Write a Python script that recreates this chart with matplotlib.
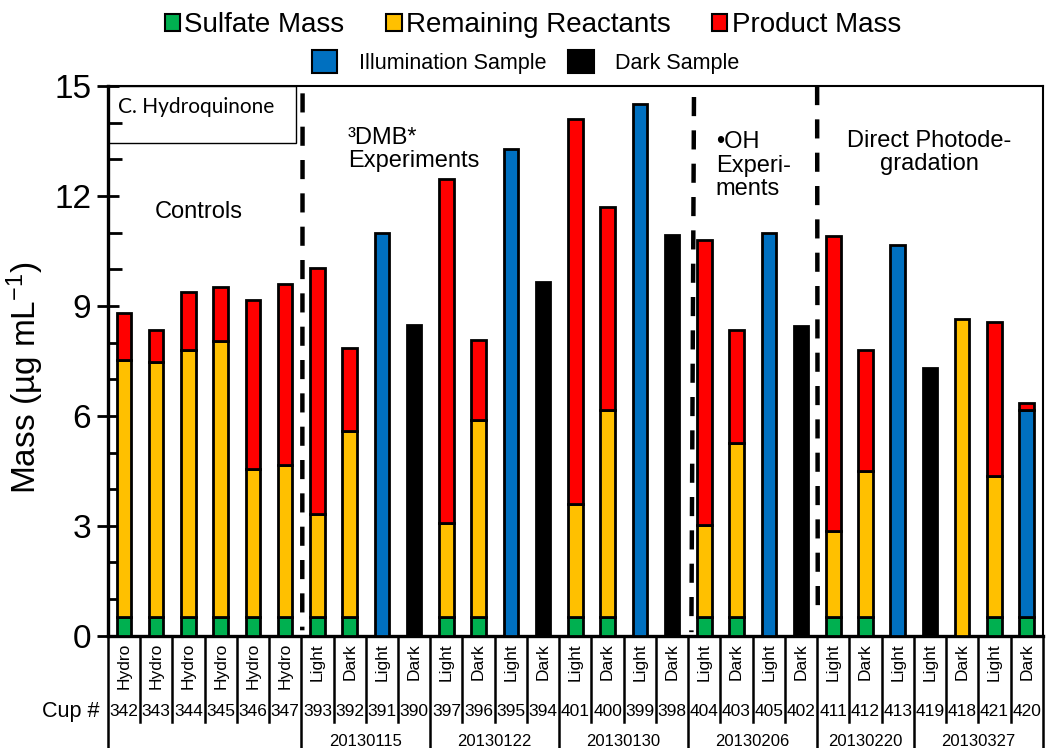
import numpy as np
import matplotlib
matplotlib.use("Agg")
import matplotlib.pyplot as plt
import matplotlib.transforms as mtransforms
from matplotlib.patches import Patch, Rectangle

plt.rcParams['font.family'] = ['Liberation Sans', 'DejaVu Sans']
plt.rcParams['mathtext.default'] = 'regular'

cups = ['342', '343', '344', '345', '346', '347',
        '393', '392', '391', '390', '397', '396', '395', '394',
        '401', '400', '399', '398', '404', '403', '405', '402',
        '411', '412', '413', '419', '418', '421', '420']
kinds = ['Hydro'] * 6 + ['Light', 'Dark'] * 8 + ['Light', 'Dark', 'Light'] + ['Light', 'Dark', 'Light', 'Dark']

# segment heights (ug/mL), stacked bottom -> top
sulfate = [0.5, 0.5, 0.5, 0.5, 0.5, 0.5,
           0.5, 0.5, 0, 0, 0.5, 0.5, 0, 0,
           0.5, 0.5, 0, 0, 0.5, 0.5, 0, 0,
           0.5, 0.5, 0, 0, 0, 0.5, 0.5]
reactants = [7.03, 6.96, 7.31, 7.53, 4.06, 4.16,
             2.83, 5.08, 0, 0, 2.59, 5.40, 0, 0,
             3.10, 5.67, 0, 0, 2.51, 4.76, 0, 0,
             2.35, 3.99, 0, 0, 8.63, 3.85, 0]
illum = [0, 0, 0, 0, 0, 0,
         0, 0, 11.0, 0, 0, 0, 13.29, 0,
         0, 0, 14.51, 0, 0, 0, 10.99, 0,
         0, 0, 10.67, 0, 0, 0, 5.65]
dark = [0, 0, 0, 0, 0, 0,
        0, 0, 0, 8.47, 0, 0, 0, 9.65,
        0, 0, 0, 10.93, 0, 0, 0, 8.44,
        0, 0, 0, 7.31, 0, 0, 0]
product = [1.27, 0.87, 1.56, 1.49, 4.61, 4.95,
           6.71, 2.27, 0, 0, 9.38, 2.18, 0, 0,
           10.49, 5.53, 0, 0, 7.78, 3.09, 0, 0,
           8.07, 3.32, 0, 0, 0, 4.20, 0.2]

dates = ['20130115', '20130122', '20130130', '20130206', '20130220', '20130327']
date_start = [6, 10, 14, 18, 22, 25]
date_end = [9, 13, 17, 21, 24, 28]

c_green, c_yellow, c_red, c_blue = '#00B050', '#FFC000', '#FF0000', '#0070C0'

fig = plt.figure(figsize=(10.47, 7.48), dpi=100)
ax = fig.add_axes([0.103, 0.15, 0.893, 0.735])

x = np.arange(len(cups))
w = 0.45
bottom = np.zeros(len(cups))
for vals, col in [(sulfate, c_green), (reactants, c_yellow), (illum, c_blue),
                  (dark, 'black'), (product, c_red)]:
    vals = np.array(vals)
    m = vals > 0
    ax.bar(x[m], vals[m], w, bottom=bottom[m], color=col, edgecolor='black', linewidth=2, zorder=3)
    bottom += vals

ax.set_xlim(-0.5, len(cups) - 0.5)
ax.set_ylim(0, 15)
ax.set_xticks([])
ax.set_yticks(np.arange(0, 16, 3))
ax.set_yticks(np.arange(0, 16, 1), minor=True)
ax.tick_params(axis='y', which='major', direction='inout', length=16, width=2, labelsize=24, pad=4)
ax.tick_params(axis='y', which='minor', direction='in', length=10, width=2)
ax.set_ylabel('Mass (µg mL$^{-1}$)', fontsize=24)
ax.yaxis.set_label_coords(-0.066, 0.47)
for s in ['left', 'bottom']:
    ax.spines[s].set_linewidth(2.4)
for s in ['top', 'right']:
    ax.spines[s].set_linewidth(1.5)

# dashed group separators
dash = dict(color='black', lw=3.2, dashes=(4.3, 3.2), zorder=4)
ax.plot([5.54, 5.53], [14.8, 0.15], **dash)
ax.plot([17.68, 17.6], [14.7, 0.1], **dash)
ax.plot([21.5, 21.52], [15, 0.5], **dash)

# panel label box
ax.add_patch(Rectangle((-0.5, 13.45), 5.85, 1.55, fill=False, lw=1, edgecolor='black', zorder=5))
ax.text(-0.2, 14.42, 'C. Hydroquinone', fontsize=15, family=['Lato', 'DejaVu Sans'],
        va='center', ha='left')

ax.text(2.32, 11.55, 'Controls', fontsize=17, ha='center', va='center')
ax.text(6.94, 13.27, '³DMB*\nExperiments', fontsize=17, ha='left', va='center', linespacing=1.1)
ax.text(18.36, 12.83, '•OH\nExperi-\nments', fontsize=17, ha='left', va='center', linespacing=1.1)
ax.text(24.97, 13.19, 'Direct Photode-\ngradation', fontsize=17, ha='center', va='center',
        multialignment='center', linespacing=1.1)

# table beneath the axis
trans = mtransforms.blended_transform_factory(ax.transData, ax.transAxes)
for i, (k, c) in enumerate(zip(kinds, cups)):
    ax.text(i, -0.013, k, rotation=90, ha='center', va='top', fontsize=12.5,
            transform=trans, clip_on=False)
    ax.text(i, -0.137, c, ha='center', va='center', fontsize=12.5,
            transform=trans, clip_on=False)
ax.text(-0.75, -0.137, 'Cup #', ha='right', va='center', fontsize=15.5,
        transform=trans, clip_on=False)

group_edges = [-0.5, 5.5] + [e + 0.5 for e in date_end]
for b in np.arange(-0.5, len(cups), 1.0):
    y_end = -0.22 if b in group_edges else -0.156
    ax.plot([b, b], [0, y_end], color='black', lw=1.8, transform=trans, clip_on=False)
for d, s, e in zip(dates, date_start, date_end):
    ax.text((s + e) / 2, -0.178, d, ha='center', va='top', fontsize=12,
            transform=trans, clip_on=False)

# legends
h1 = [Patch(facecolor=c, edgecolor='black', linewidth=1.5) for c in (c_green, c_yellow, c_red)]
fig.legend(h1, ['Sulfate Mass', 'Remaining Reactants', 'Product Mass'],
           loc='center', bbox_to_anchor=(0.509, 0.966), ncol=3, frameon=False,
           fontsize=20, handlelength=0.55, handleheight=0.55, handletextpad=0.15,
           columnspacing=1.5, borderpad=0)
h2 = [Patch(facecolor=c, edgecolor='black', linewidth=1.5) for c in (c_blue, 'black')]
fig.legend(h2, ['Illumination Sample', 'Dark Sample'],
           loc='center', bbox_to_anchor=(0.502, 0.917), ncol=2, frameon=False,
           fontsize=15.5, handlelength=1.2, handleheight=1.25, handletextpad=1.0,
           columnspacing=1.0, borderpad=0)

fig.savefig('out.png', dpi=100)
